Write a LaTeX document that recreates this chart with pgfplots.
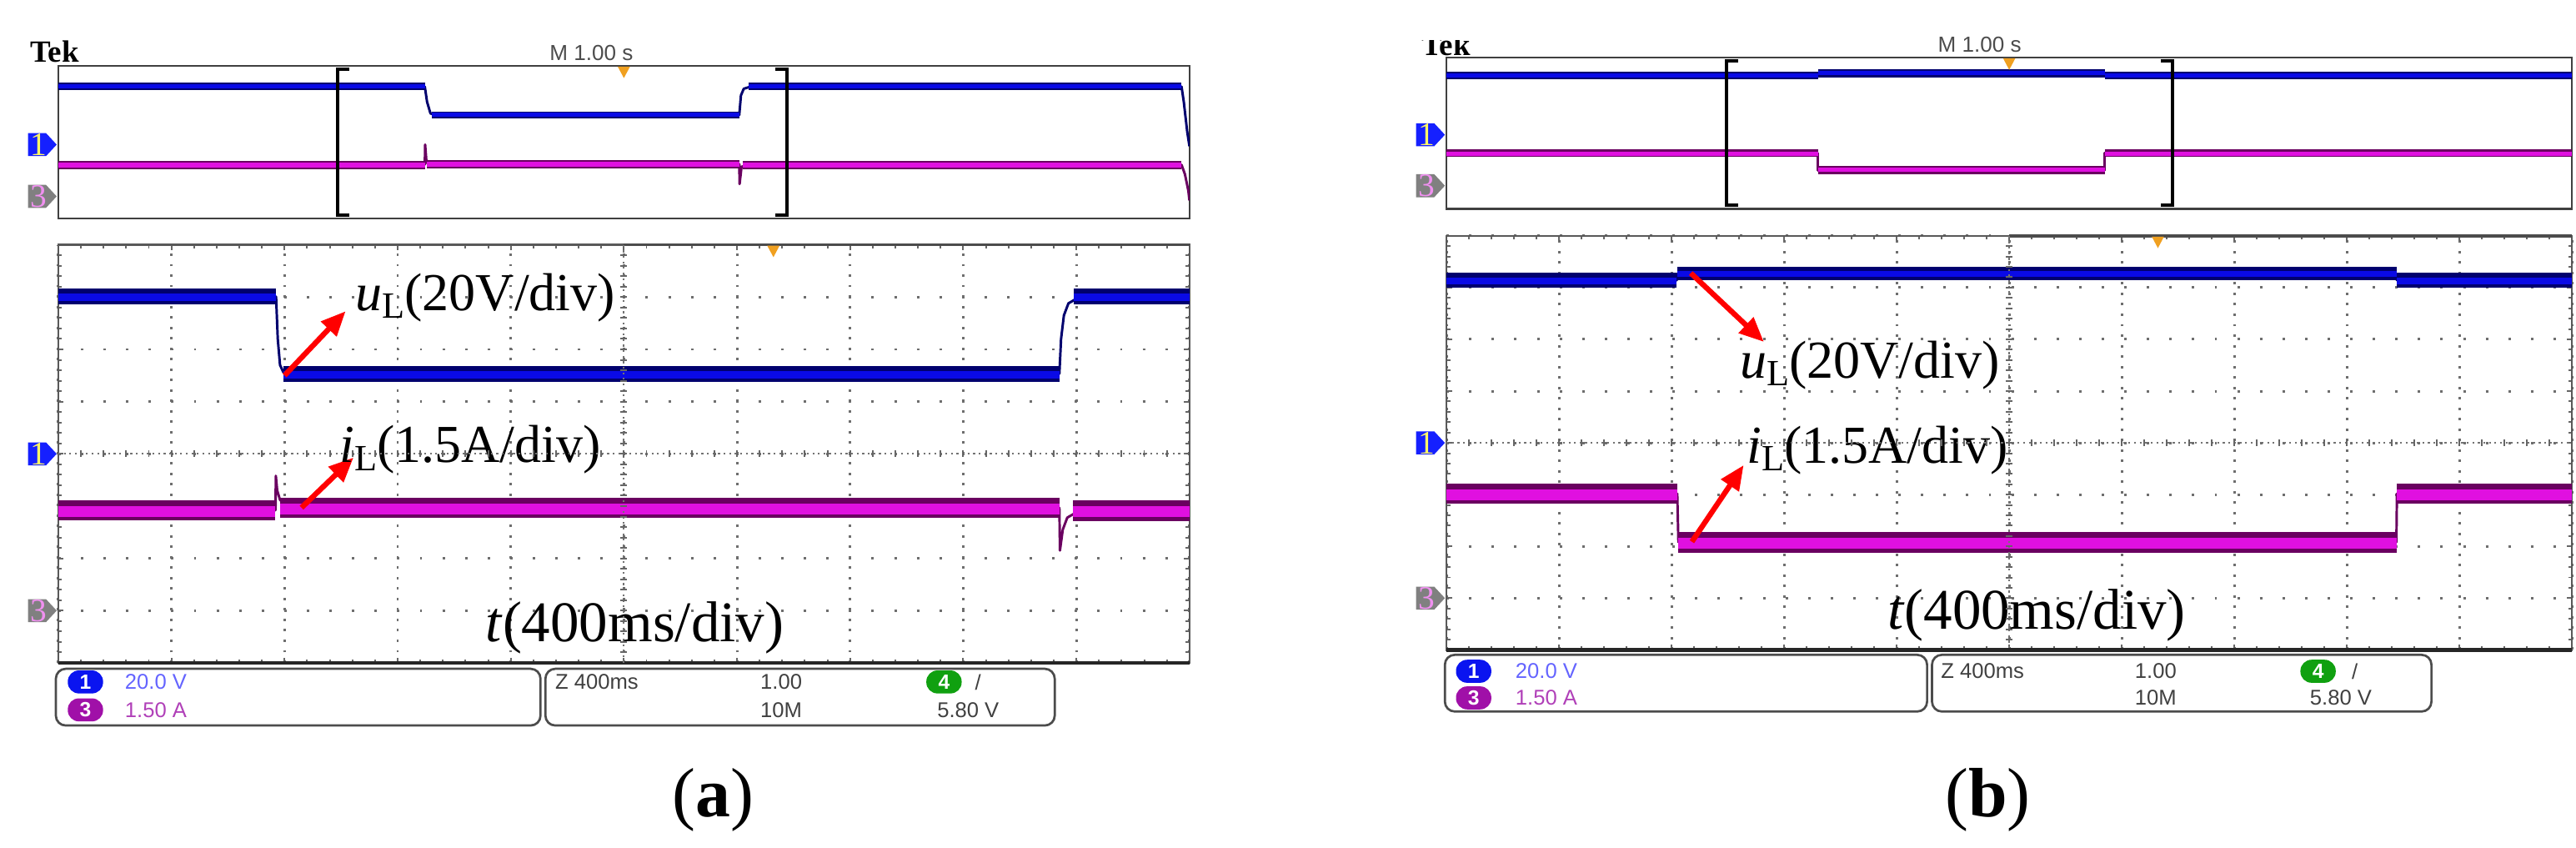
\documentclass[border=0pt]{standalone}
\usepackage{pgfplots}
\pgfplotsset{compat=1.18}
\usetikzlibrary{arrows.meta}
\usepackage{fontspec}
\setmainfont{Liberation Serif}
\newfontfamily\scopefont{Liberation Sans}

\definecolor{trblue}{HTML}{0A0AE6}
\definecolor{trnavy}{HTML}{00006E}
\definecolor{trmag}{HTML}{E010E0}
\definecolor{trpur}{HTML}{6A0060}
\definecolor{gridc}{HTML}{6E6E6E}
\definecolor{trig}{HTML}{F0A020}
\definecolor{pillblue}{HTML}{0A14F0}
\definecolor{pillmag}{HTML}{A010A8}
\definecolor{pillgreen}{HTML}{10A010}
\definecolor{stblue}{HTML}{6464FF}
\definecolor{stmag}{HTML}{B040B8}
\definecolor{stgray}{HTML}{404040}
\definecolor{mkblue}{HTML}{1520FF}
\definecolor{mkgray}{HTML}{808080}
\definecolor{mkpink}{HTML}{F090F0}

\pgfplotsset{
 overview/.style={scale only axis, anchor=north west, xmin=0, xmax=10, y dir=reverse,
   xtick=\empty, ytick=\empty, axis line style={draw=black!75, line width=0.5pt},
   clip mode=individual},
 scopemain/.style={scale only axis, anchor=north west, xmin=0, xmax=10, ymin=-4, ymax=4,
   xtick={0,...,10}, ytick={-4,...,4}, xticklabels={}, yticklabels={},
   minor x tick num=4, minor y tick num=4, tick align=inside,
   major tick length=1.3pt, minor tick length=0.9pt,
   tick style={black!60, line width=0.4pt},
   grid=major,
   major x grid style={gridc, line width=0.6pt, dash pattern=on 0.6pt off 1.94pt},
   major y grid style={gridc, line width=0.6pt, dash pattern=on 0.6pt off 4.9pt},
   axis line style={draw=black!65, line width=0.5pt},
   clip mode=individual},
 bandB/.style={trnavy, line width=#1, line cap=butt},
 coreB/.style={trblue, line width=#1, line cap=butt},
 bandM/.style={trpur, line width=#1, line cap=butt},
 coreM/.style={trmag, line width=#1, line cap=butt},
 thinB/.style={trnavy, line width=0.6pt, line join=round},
 thinM/.style={trpur, line width=0.6pt, line join=round},
}

\newcommand{\lab}[2]{\textit{#1}\raisebox{-1.9pt}{\fontsize{9}{9}\selectfont L}(#2)}
\newcommand{\chmark}[5]{%
 \fill[#3] (#1,{#2-7}) -- ({#1+11},{#2-7}) -- ({#1+17.5},#2) -- ({#1+11},{#2+7}) -- (#1,{#2+7}) -- cycle;
 \node[text=#4, inner sep=0pt, font=\fontsize{8}{8}\selectfont] at ({#1+6.5},#2) {#5};}
\newcommand{\pill}[4]{\node[fill=#3, rounded corners=2.7pt, minimum width=8.6pt, minimum height=5.6pt,
   inner sep=0pt, text=white, font=\scopefont\bfseries\fontsize{5}{5}\selectfont] at (#1,#2) {#4};}
\newcommand{\stxt}[4]{\node[anchor=west, inner sep=0pt, text=#3, font=\scopefont\fontsize{5.2}{6}\selectfont] at (#1,#2) {#4};}

\begin{document}
\begin{tikzpicture}[x=0.4pt, y=-0.4pt]
\useasboundingbox (0,0) rectangle (1568,516);

% ===================== PANEL (a) =====================
\begin{axis}[overview, at={(14.2pt,-16pt)}, width=275.4pt, height=37.2pt, ymin=40, ymax=133]
 \addplot[thinB] coordinates {(0,52.7) (3.24,52.7) (3.26,62) (3.29,69) (3.33,70) (6.02,70) (6.035,58) (6.06,54) (6.12,52.7) (9.93,52.7) (9.95,62) (9.98,80) (10,89)};
 \addplot[bandB=1.8pt] coordinates {(0,52.7) (3.24,52.7)};
 \addplot[bandB=1.8pt] coordinates {(3.3,70) (6.02,70)};
 \addplot[bandB=1.8pt] coordinates {(6.1,52.7) (9.93,52.7)};
 \addplot[coreB=1.0pt] coordinates {(0,52.7) (3.24,52.7)};
 \addplot[coreB=1.0pt] coordinates {(3.3,70) (6.02,70)};
 \addplot[coreB=1.0pt] coordinates {(6.1,52.7) (9.93,52.7)};
 \addplot[thinM] coordinates {(0,100.3) (3.24,100.3) (3.243,88) (3.255,99) (3.3,99.8) (6.02,99.8) (6.023,112) (6.04,101.5) (6.1,100.3) (9.93,100.3) (9.96,106) (9.99,116) (10,122)};
 \addplot[bandM=2.0pt] coordinates {(0,100.3) (3.24,100.3)};
 \addplot[bandM=2.0pt] coordinates {(3.26,99.8) (6.02,99.8)};
 \addplot[bandM=2.0pt] coordinates {(6.05,100.3) (9.93,100.3)};
 \addplot[coreM=1.2pt] coordinates {(0,100.6) (3.24,100.6)};
 \addplot[coreM=1.2pt] coordinates {(3.26,100.1) (6.02,100.1)};
 \addplot[coreM=1.2pt] coordinates {(6.05,100.6) (9.93,100.6)};
 \draw[black, line width=0.8pt] (axis cs:2.57,42) -- (axis cs:2.47,42) -- (axis cs:2.47,131) -- (axis cs:2.57,131);
 \draw[black, line width=0.8pt] (axis cs:6.34,42) -- (axis cs:6.44,42) -- (axis cs:6.44,131) -- (axis cs:6.34,131);
\end{axis}

\begin{axis}[scopemain, at={(14.2pt,-59.6pt)}, width=275.4pt, height=101.76pt]
 \addplot[thinB] coordinates {(0,3.01) (1.925,3.01) (1.94,2.2) (1.96,1.7) (1.99,1.56) (2.05,1.53) (8.85,1.53) (8.865,2.2) (8.89,2.65) (8.93,2.88) (9.0,2.97) (9.1,3.01) (10,3.01)};
 \addplot[bandB=3.8pt] coordinates {(0,3.01) (1.925,3.01)};
 \addplot[bandB=4.0pt] coordinates {(1.99,1.53) (8.85,1.53)};
 \addplot[bandB=3.8pt] coordinates {(8.98,3.01) (10,3.01)};
 \addplot[coreB=1.8pt] coordinates {(0,3.0) (1.925,3.0)};
 \addplot[coreB=1.8pt] coordinates {(1.99,1.52) (8.85,1.52)};
 \addplot[coreB=1.8pt] coordinates {(8.98,3.0) (10,3.0)};
 \addplot[thinM] coordinates {(0,-1.08) (1.92,-1.08) (1.923,-0.42) (1.935,-0.7) (1.96,-0.88) (2.0,-0.97) (2.1,-1.02) (8.85,-1.03) (8.855,-1.85) (8.88,-1.45) (8.92,-1.22) (9.0,-1.12) (9.1,-1.09) (10,-1.09)};
 \addplot[bandM=5.0pt] coordinates {(0,-1.08) (1.92,-1.08)};
 \addplot[bandM=5.0pt] coordinates {(1.96,-1.03) (8.85,-1.03)};
 \addplot[bandM=5.0pt] coordinates {(8.97,-1.09) (10,-1.09)};
 \addplot[coreM=2.6pt] coordinates {(0,-1.1) (1.92,-1.1)};
 \addplot[coreM=2.6pt] coordinates {(1.96,-1.05) (8.85,-1.05)};
 \addplot[coreM=2.6pt] coordinates {(8.97,-1.11) (10,-1.11)};
 \draw[black!85, line width=0.9pt] (axis cs:0,-4) -- (axis cs:10,-4);
 \draw[black!70, line width=0.7pt] (axis cs:5,4) -- (axis cs:10,4);
 \draw[red, line width=1.3pt, -{Triangle[length=6pt, width=5pt]}] (axis cs:2.0,1.5) -- (axis cs:2.54,2.73);
 \draw[red, line width=1.3pt, -{Triangle[length=6pt, width=5pt]}] (axis cs:2.15,-1.03) -- (axis cs:2.61,-0.07);
 \node[anchor=base west, inner sep=0pt, font=\fontsize{13}{13}\selectfont] at (axis cs:2.62,2.74) {\lab{u}{20V/div}};
 \node[anchor=base west, inner sep=0pt, font=\fontsize{13}{13}\selectfont] at (axis cs:2.48,-0.17) {\lab{i}{1.5A/div}};
 \node[anchor=base west, inner sep=0pt, font=\fontsize{14}{14}\selectfont] at (axis cs:3.77,-3.6) {\textit{t}(400ms/div)};
\end{axis}

% centre cross of (a)
\draw[black!55, line width=0.45pt, dash pattern=on 0.45pt off 0.9pt] (35.5,276.2) -- (724,276.2);
\draw[black!55, line width=0.45pt, dash pattern=on 0.45pt off 0.9pt] (379.75,149) -- (379.75,403.4);
\foreach \i in {1,...,49} {\draw[black!60, line width=0.4pt] ({35.5+\i*13.77},274.2) -- ++(0,4);}
\foreach \i in {1,...,39} {\draw[black!60, line width=0.4pt] (377.75,{149+\i*6.36}) -- ++(4,0);}

% header (a)
\node[anchor=base west, inner sep=0pt, font=\fontsize{7.5}{8}\selectfont\bfseries] at (18,38) {Tek};
\node[inner sep=0pt, text=black!70, font=\scopefont\fontsize{5.3}{6}\selectfont] at (360,32) {M 1.00 s};
\fill[trig] (376,40.5) -- (383.5,40.5) -- (379.75,47.5) -- cycle;
\fill[trig] (467,149.5) -- (474.5,149.5) -- (470.8,156.5) -- cycle;

% channel markers (a)
\chmark{17}{88}{mkblue}{yellow!60!white}{1}
\chmark{17}{119.5}{mkgray}{mkpink}{3}
\chmark{17}{276.2}{mkblue}{yellow!60!white}{1}
\chmark{17}{371.6}{mkgray}{mkpink}{3}

% status bar (a)
\draw[black!70, line width=0.55pt, rounded corners=2.4pt] (34,407) rectangle (329,441.5);
\draw[black!70, line width=0.55pt, rounded corners=2.4pt] (332,407) rectangle (642,441.5);
\pill{52}{415}{pillblue}{1}
\pill{52}{432}{pillmag}{3}
\stxt{75.6}{415}{stblue}{20.0 V}
\stxt{75.6}{432}{stmag}{1.50 A}
\stxt{337.5}{415}{stgray}{Z 400ms}
\stxt{462.4}{415}{stgray}{1.00}
\stxt{462.4}{432}{stgray}{10M}
\pill{574.6}{415}{pillgreen}{4}
\stxt{593}{415}{stgray}{/}
\stxt{570}{432}{stgray}{5.80 V}

\node[font=\fontsize{17}{17}\selectfont] at (434,487) {(\textbf{a})};

% ===================== PANEL (b) =====================
\begin{axis}[overview, at={(352.2pt,-14pt)}, width=274pt, height=36.8pt, ymin=35, ymax=127]
 \addplot[thinB] coordinates {(0,46) (3.3,46) (3.3,44.6) (5.85,44.6) (5.85,46) (10,46)};
 \addplot[bandB=1.9pt] coordinates {(0,46) (3.3,46)};
 \addplot[bandB=1.9pt] coordinates {(3.3,44.6) (5.85,44.6)};
 \addplot[bandB=1.9pt] coordinates {(5.85,46) (10,46)};
 \addplot[coreB=1.0pt] coordinates {(0,46) (3.3,46)};
 \addplot[coreB=1.0pt] coordinates {(3.3,44.6) (5.85,44.6)};
 \addplot[coreB=1.0pt] coordinates {(5.85,46) (10,46)};
 \addplot[thinM] coordinates {(0,93.2) (3.3,93.2) (3.3,103.6) (5.85,103.6) (5.85,93.2) (10,93.2)};
 \addplot[bandM=1.9pt] coordinates {(0,93.2) (3.3,93.2)};
 \addplot[bandM=1.9pt] coordinates {(3.3,103.6) (5.85,103.6)};
 \addplot[bandM=1.9pt] coordinates {(5.85,93.2) (10,93.2)};
 \addplot[coreM=1.1pt] coordinates {(0,93.5) (3.3,93.5)};
 \addplot[coreM=1.1pt] coordinates {(3.3,103.3) (5.85,103.3)};
 \addplot[coreM=1.1pt] coordinates {(5.85,93.5) (10,93.5)};
 \draw[black, line width=0.8pt] (axis cs:2.59,37) -- (axis cs:2.49,37) -- (axis cs:2.49,125) -- (axis cs:2.59,125);
 \draw[black, line width=0.8pt] (axis cs:6.35,37) -- (axis cs:6.45,37) -- (axis cs:6.45,125) -- (axis cs:6.35,125);
\end{axis}

\begin{axis}[scopemain, at={(352.2pt,-57.4pt)}, width=274pt, height=100.8pt]
 \addplot[thinB] coordinates {(0,3.14) (2.045,3.14) (2.05,3.27) (8.44,3.27) (8.445,3.14) (10,3.14)};
 \addplot[bandB=3.6pt] coordinates {(0,3.14) (2.045,3.14)};
 \addplot[bandB=3.2pt] coordinates {(2.05,3.27) (8.44,3.27)};
 \addplot[bandB=3.6pt] coordinates {(8.445,3.14) (10,3.14)};
 \addplot[coreB=1.7pt] coordinates {(0,3.13) (2.045,3.13)};
 \addplot[coreB=1.5pt] coordinates {(2.05,3.26) (8.44,3.26)};
 \addplot[coreB=1.7pt] coordinates {(8.445,3.13) (10,3.13)};
 \addplot[thinM] coordinates {(0,-0.98) (2.05,-0.98) (2.06,-1.92) (8.44,-1.92) (8.445,-0.98) (10,-0.98)};
 \addplot[bandM=5.0pt] coordinates {(0,-0.98) (2.05,-0.98)};
 \addplot[bandM=5.0pt] coordinates {(2.06,-1.92) (8.44,-1.92)};
 \addplot[bandM=5.0pt] coordinates {(8.445,-0.98) (10,-0.98)};
 \addplot[coreM=2.6pt] coordinates {(0,-1.0) (2.05,-1.0)};
 \addplot[coreM=2.6pt] coordinates {(2.06,-1.94) (8.44,-1.94)};
 \addplot[coreM=2.6pt] coordinates {(8.445,-1.0) (10,-1.0)};
 \draw[black!85, line width=0.9pt] (axis cs:0,-4) -- (axis cs:10,-4);
 \draw[black!70, line width=0.7pt] (axis cs:5,4) -- (axis cs:10,4);
 \draw[red, line width=1.3pt, -{Triangle[length=6pt, width=5pt]}] (axis cs:2.17,3.28) -- (axis cs:2.82,1.95);
 \draw[red, line width=1.3pt, -{Triangle[length=6pt, width=5pt]}] (axis cs:2.18,-1.91) -- (axis cs:2.64,-0.43);
 \node[anchor=base west, inner sep=0pt, font=\fontsize{13}{13}\selectfont] at (axis cs:2.6,1.25) {\lab{u}{20V/div}};
 \node[anchor=base west, inner sep=0pt, font=\fontsize{13}{13}\selectfont] at (axis cs:2.66,-0.39) {\lab{i}{1.5A/div}};
 \node[anchor=base west, inner sep=0pt, font=\fontsize{14}{14}\selectfont] at (axis cs:3.91,-3.6) {\textit{t}(400ms/div)};
\end{axis}

% centre cross of (b)
\draw[black!55, line width=0.45pt, dash pattern=on 0.45pt off 0.9pt] (880.5,269.5) -- (1565.5,269.5);
\draw[black!55, line width=0.45pt, dash pattern=on 0.45pt off 0.9pt] (1223,143.5) -- (1223,395.5);
\foreach \i in {1,...,49} {\draw[black!60, line width=0.4pt] ({880.5+\i*13.7},267.5) -- ++(0,4);}
\foreach \i in {1,...,39} {\draw[black!60, line width=0.4pt] (1221,{143.5+\i*6.3}) -- ++(4,0);}

% header (b)
\node[anchor=base west, inner sep=0pt, font=\fontsize{7.5}{8}\selectfont\bfseries] at (865,33.5) {Tek};
\fill[white] (860,14) rectangle (900,24.5);
\node[inner sep=0pt, text=black!70, font=\scopefont\fontsize{5.3}{6}\selectfont] at (1205,27) {M 1.00 s};
\fill[trig] (1219.3,35.5) -- (1226.7,35.5) -- (1223,42.5) -- cycle;
\fill[trig] (1309.8,144) -- (1317.2,144) -- (1313.5,151) -- cycle;

% channel markers (b)
\chmark{862}{82}{mkblue}{yellow!60!white}{1}
\chmark{862}{113}{mkgray}{mkpink}{3}
\chmark{862}{269.5}{mkblue}{yellow!60!white}{1}
\chmark{862}{364}{mkgray}{mkpink}{3}

% status bar (b)
\draw[black!70, line width=0.55pt, rounded corners=2.4pt] (879.5,398.5) rectangle (1173,433);
\draw[black!70, line width=0.55pt, rounded corners=2.4pt] (1176,398.5) rectangle (1480,433);
\pill{897}{408.5}{pillblue}{1}
\pill{897}{424.7}{pillmag}{3}
\stxt{922}{408.5}{stblue}{20.0 V}
\stxt{922}{424.7}{stmag}{1.50 A}
\stxt{1181}{408.5}{stgray}{Z 400ms}
\stxt{1299}{408.5}{stgray}{1.00}
\stxt{1299}{424.7}{stgray}{10M}
\pill{1411}{408.5}{pillgreen}{4}
\stxt{1431}{408.5}{stgray}{/}
\stxt{1405.6}{424.7}{stgray}{5.80 V}

\node[font=\fontsize{17}{17}\selectfont] at (1210,487) {(\textbf{b})};
\end{tikzpicture}
\end{document}
